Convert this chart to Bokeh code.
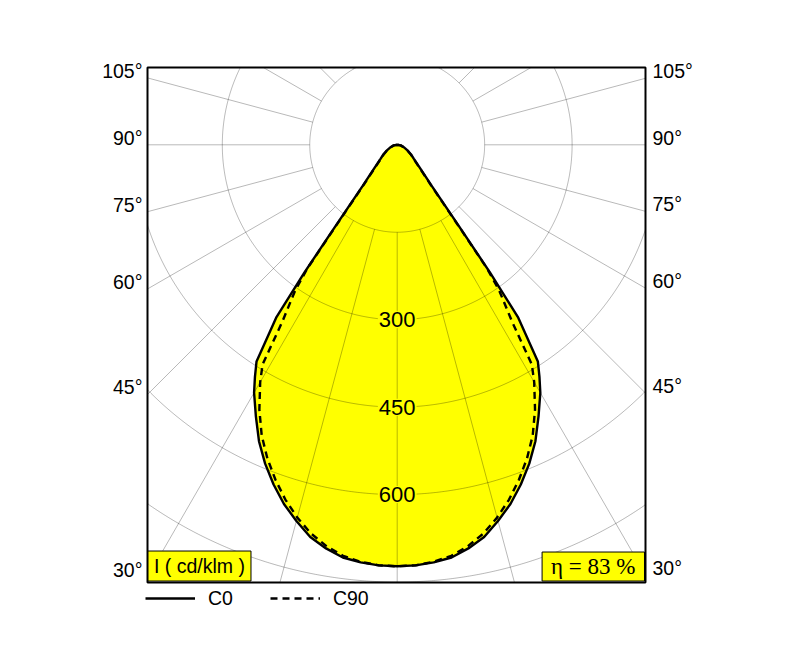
import numpy as np
from bokeh.plotting import figure
from bokeh.models import Label, Legend, LegendItem, Range1d
from bokeh.core.properties import value
from bokeh.embed import file_html
from bokeh.resources import INLINE

# ---- data (gamma angle in degrees, intensity in cd/klm) ----
gamma = [0, 2.5, 5, 7.5, 10, 12.5, 15, 17.5, 20, 22.5, 25, 27.5, 30, 31.5, 33,
         35, 36, 37, 40, 45, 50, 55, 60, 70, 80, 90]
c0_cd = [723, 722, 719, 714, 703, 689, 668, 646, 620, 592, 561, 525, 491, 467, 443,
         362, 271, 186, 93, 53, 37, 29, 22, 12, 6, 0]
c90_cd = [723, 722, 718, 711, 699, 683, 662, 638, 611, 582, 550, 512, 470, 442, 362,
          305, 262, 179, 89, 51, 36, 28, 21, 12, 6, 0]
ring_values = [150, 300, 450, 600, 750]
ring_labels = [300, 450, 600]
angle_labels = [30, 45, 60, 75, 90, 105]
grid_angles = list(range(0, 360, 15))
series_names = ["C0", "C90"]
unit_label = "I ( cd/klm )"
eta_label = "η = 83 %"

SANS = "Liberation Sans"
SERIF = "Liberation Serif"
YELLOW = "#ffff00"

# ---- geometry: pixel scale and diagram box (in cd/klm units) ----
W, H = 779, 634
S = 0.583                # px per cd/klm
CX, CY = 396.7, 144.3    # lamp centre inside the canvas (px)
XS = -CX / S
XE = XS + W / S
YE = CY / S
YS = YE - H / S
BX0, BX1 = -428.3, 425.9       # diagram box left / right
BY0, BY1 = -750.8, 132.6       # diagram box bottom / top


def outline(g, v):
    g = np.radians(np.asarray(g, float))
    v = np.asarray(v, float)
    xr = v * np.sin(g)
    yr = -v * np.cos(g)
    xs = np.concatenate([xr[::-1], -xr[1:]])
    ys = np.concatenate([yr[::-1], yr[1:]])
    return xs, ys


p = figure(width=W, height=H,
           x_range=Range1d(XS, XE), y_range=Range1d(YS, YE),
           x_axis_type=None, y_axis_type=None,
           toolbar_location=None, output_backend="svg", min_border=0)
p.outline_line_color = None
p.background_fill_color = "white"
p.border_fill_color = "white"

x0, y0 = outline(gamma, c0_cd)
x90, y90 = outline(gamma, c90_cd)

# yellow fill of the C0 distribution
p.patch(x0, y0, fill_color=YELLOW, line_color=None)

# polar grid: circles clipped to the box
t = np.linspace(0, 2 * np.pi, 1441)
cxs, cys = [], []
for r in ring_values:
    cxs.append(np.clip(r * np.sin(t), BX0, BX1))
    cys.append(np.clip(-r * np.cos(t), BY0, BY1))
p.multi_line(cxs, cys, line_color="black", line_alpha=0.28, line_width=1)

# radial lines from the innermost ring out to the box
rxs, rys = [], []
for a in grid_angles:
    dx, dy = np.sin(np.radians(a)), -np.cos(np.radians(a))
    lims = []
    if dx > 1e-9:
        lims.append(BX1 / dx)
    if dx < -1e-9:
        lims.append(BX0 / dx)
    if dy > 1e-9:
        lims.append(BY1 / dy)
    if dy < -1e-9:
        lims.append(BY0 / dy)
    tmax = min(lims)
    if tmax > ring_values[0]:
        rxs.append([ring_values[0] * dx, tmax * dx])
        rys.append([ring_values[0] * dy, tmax * dy])
p.multi_line(rxs, rys, line_color="black", line_alpha=0.28, line_width=1)

# curves
r90 = p.line(x90, y90, line_color="black", line_width=2.4, line_dash="7 5")
r0 = p.line(x0, y0, line_color="black", line_width=2.4)

# diagram box
p.quad(left=[BX0], right=[BX1], bottom=[BY0], top=[BY1],
       fill_color=None, line_color="black", line_width=2)

# ring value labels
for v in ring_labels:
    p.add_layout(Label(x=0, y=-v, text=str(v), text_align="center", text_baseline="middle",
                       text_font=SANS, text_font_size="22px", text_color="black",
                       background_fill_color=YELLOW, padding=1))

# angle labels on both sides of the box
for a in angle_labels:
    ar = np.radians(a)
    yl = BX0 * np.cos(ar) / np.sin(ar)
    yr = -BX1 * np.cos(ar) / np.sin(ar)
    p.add_layout(Label(x=BX0, y=yl, x_offset=-5, y_offset=7, text=f"{a}°", text_align="right",
                       text_baseline="middle", text_font=SANS, text_font_size="19.5px",
                       text_color="black"))
    p.add_layout(Label(x=BX1, y=yr, x_offset=7, y_offset=7, text=f"{a}°", text_align="left",
                       text_baseline="middle", text_font=SANS, text_font_size="19.5px",
                       text_color="black"))

# unit box
p.add_layout(Label(x=BX0, y=BY0, x_offset=0.5, y_offset=1.5, text=unit_label,
                   text_align="left", text_baseline="bottom",
                   text_font=SANS, text_font_size="19.5px", text_color="black",
                   background_fill_color=YELLOW, border_line_color="black",
                   border_line_width=1, padding=(6, 4)))

# efficiency box (serif text)
p.text(x=[BX1], y=[BY0], text=[eta_label], x_offset=-1, y_offset=-1.5,
       text_align="right", text_baseline="bottom",
       text_font=value(SERIF), text_font_size="23px", text_color="black",
       background_fill_color=YELLOW, border_line_color="black",
       border_line_width=1, padding=(9, 2))

legend = Legend(items=[LegendItem(label=series_names[0], renderers=[r0]),
                       LegendItem(label=series_names[1], renderers=[r90])],
                orientation="horizontal", location=(145, 20),
                glyph_width=50, glyph_height=32, label_height=32, label_standoff=13,
                spacing=37, padding=0, margin=0,
                border_line_color=None, background_fill_alpha=0,
                label_text_font=SANS, label_text_font_size="19.5px",
                label_text_color="black")
p.add_layout(legend)

open("out.html", "w").write(file_html(p, INLINE))
